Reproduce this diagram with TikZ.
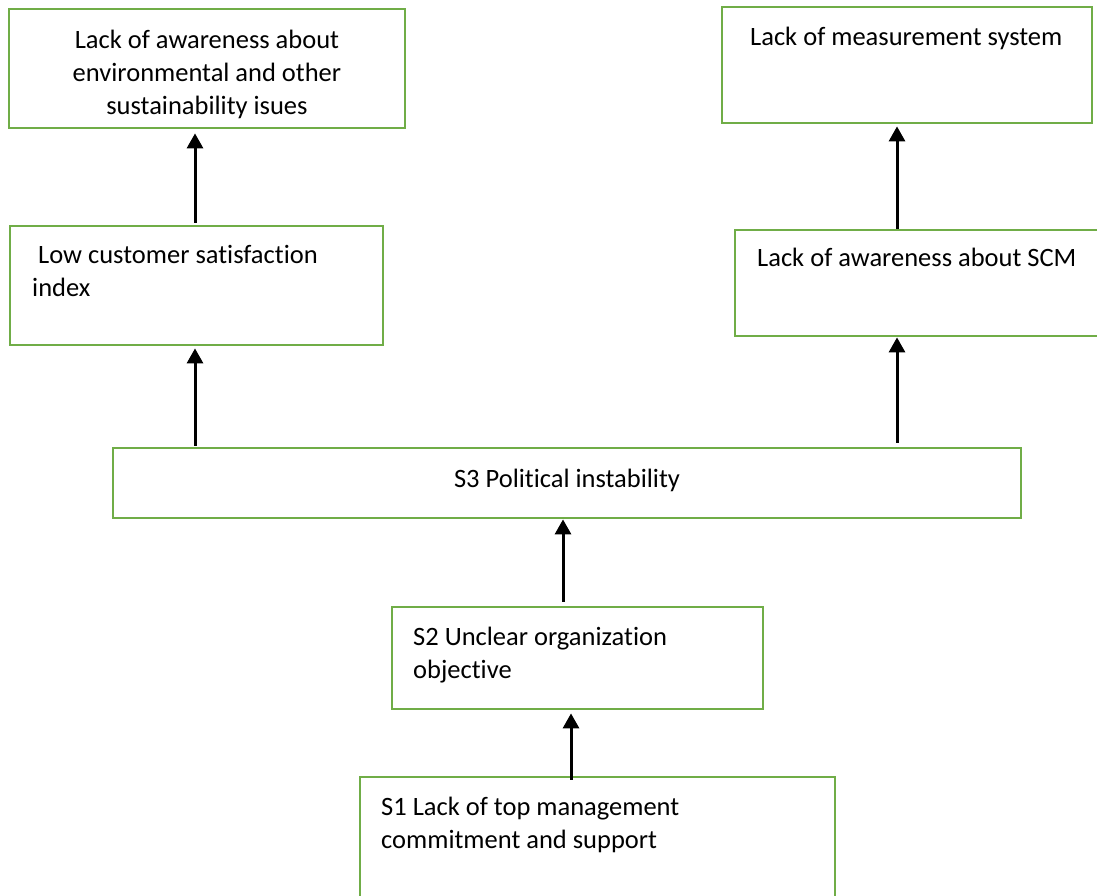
\documentclass[tikz,border=0pt]{standalone}
\usepackage{fontspec}
\setmainfont{Carlito}[Ligatures={NoCommon}]
\usetikzlibrary{arrows.meta}
\definecolor{boxgreen}{HTML}{70AD47}
\tikzset{>={Triangle[width=16pt,length=15pt]}}
\tikzset{
  factor/.style={draw=boxgreen,line width=2.8pt,rectangle,inner sep=0pt},
  txt/.style={inner sep=0pt,font=\fontsize{26.5}{33}\selectfont},
  arr/.style={->,line width=3pt,black}
}

\begin{document}
\begin{tikzpicture}[x=1pt,y=-1pt]
    \clip (0,0) rectangle (1097,896);
    \fill[white] (0,0) rectangle (1097,896);
    % boxes
    \node[factor,minimum width=396pt,minimum height=119pt] (aware) at (207,68.5) {};
    \node[factor,minimum width=370pt,minimum height=116pt] (measure) at (907,65) {};
    \node[factor,minimum width=373pt,minimum height=119pt] (custom) at (196.5,285.5) {};
    \node[factor,minimum width=369pt,minimum height=106pt] (scm) at (919.5,283) {};
    \node[factor,minimum width=908pt,minimum height=70pt] (s3) at (567,483) {};
    \node[factor,minimum width=371pt,minimum height=102pt] (s2) at (577.5,658) {};
    \node[factor,minimum width=475pt,minimum height=136pt] (s1) at (597.5,845) {};
    % texts (base = last line)
    \node[txt,align=center,anchor=base] (awaretxt) at (207,115)
      {Lack of awareness about\\environmental and other\\sustainability isues};
    \node[txt,anchor=base west] (measuretxt) at (750,46) {Lack of measurement system};
    \node[txt,align=left,anchor=base west] (customtxt) at (32,296)
      {\hspace*{6pt}Low customer satisfaction\\index};
    \node[txt,anchor=base west] (scmtxt) at (757,266) {Lack of awareness about SCM};
    \node[txt,anchor=base] (s3txt) at (567,487) {S3 Political instability};
    \node[txt,align=left,anchor=base west] (s2txt) at (413,678)
      {S2 Unclear organization\\objective};
    \node[txt,align=left,anchor=base west] (s1txt) at (381,848)
      {S1 Lack of top management\\commitment and support};
    % arrow columns
    \coordinate (colL) at (195,0);
    \coordinate (colR) at (897,0);
    \coordinate (colS3) at (563,0);
    \coordinate (colS2) at (571,0);
    % arrows
    \draw[arr,shorten <=2pt,shorten >=4pt] (custom.north -| colL) -- (aware.south -| colL);
    \draw[arr,shorten <=1pt,shorten >=2pt] (s3.north -| colL) -- (custom.south -| colL);
    \draw[arr,shorten >=2pt] (scm.north -| colR) -- (measure.south -| colR);
    \draw[arr,shorten <=4pt] (s3.north -| colR) -- (scm.south -| colR);
    \draw[arr,shorten <=4pt] (s2.north -| colS3) -- (s3.south -| colS3);
    \draw[arr,shorten <=-4pt,shorten >=3pt] (s1.north -| colS2) -- (s2.south -| colS2);
\end{tikzpicture}
\end{document}
